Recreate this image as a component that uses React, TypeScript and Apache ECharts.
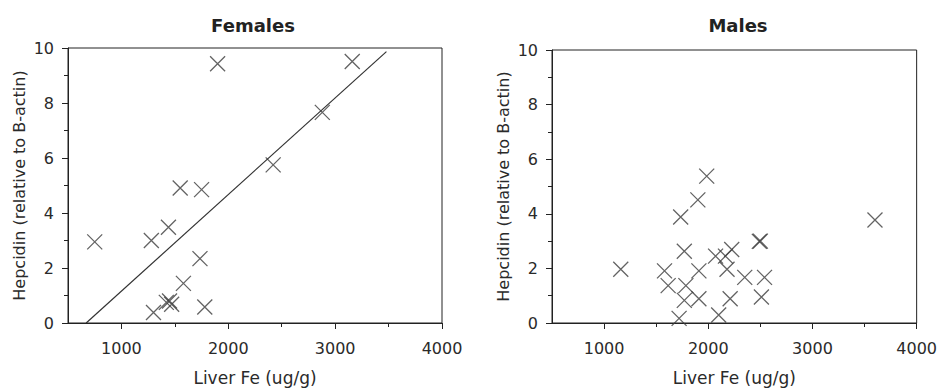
import React, { useEffect, useRef } from "react";
import * as echarts from "echarts";

// Females
const femaleFe = [1900, 3160, 2880, 2420, 1550, 1750, 750, 1280, 1440, 1735, 1580, 1420, 1450, 1470, 1300, 1780];
const femaleHep = [9.43, 9.51, 7.66, 5.75, 4.91, 4.85, 2.95, 3.0, 3.48, 2.34, 1.44, 0.75, 0.8, 0.68, 0.38, 0.58];
// fitted line end points
const femaleFitFe = [670, 3480];
const femaleFitHep = [0, 9.87];

// Males
const maleFe = [1985, 1900, 1735, 3600, 2490, 2500, 1770, 2225, 2070, 2165, 1580, 1910, 2180, 2350, 2540, 1615, 1785, 1770, 1910, 2210, 2510, 1720, 2100, 1160];
const maleHep = [5.38, 4.51, 3.88, 3.77, 2.99, 3.0, 2.63, 2.69, 2.45, 2.45, 1.91, 1.91, 1.97, 1.67, 1.67, 1.37, 1.37, 0.83, 0.89, 0.89, 0.95, 0.17, 0.29, 1.97];

const titles = ["Females", "Males"];
const xMajorTicks = [1000, 2000, 3000, 4000];
const xMinorTicks = [1500, 2500, 3500];
const xName = "Liver Fe (ug/g)";
const yName = "Hepcidin (relative to B-actin)";

const FONT = "DejaVu Sans";
const TXT = "#2a2a2a";
const LINE = "#222";
const CROSS = "path://M0,0L10,10M10,0L0,10";

export default function App() {
  const ref = useRef<HTMLDivElement>(null);
  useEffect(() => {
    const chart = echarts.init(ref.current!, null, { renderer: "svg" });
    const grids = [
      { left: 68, top: 48, width: 374, height: 279 },
      { left: 552, top: 50, width: 371, height: 278 },
    ];
    const xAxes: any[] = [];
    const yAxes: any[] = [];
    grids.forEach((_, i) => {
      xAxes.push({
        type: "value",
        gridIndex: i,
        min: 500,
        max: 4000,
        name: xName,
        nameLocation: "middle",
        nameGap: 46,
        nameTextStyle: { fontFamily: FONT, fontSize: 17, color: TXT },
        axisLine: { show: true, onZero: false, lineStyle: { color: LINE, width: 1 } },
        axisTick: { show: true, length: 6, customValues: xMajorTicks, lineStyle: { color: LINE } },
        axisLabel: {
          show: true,
          customValues: xMajorTicks,
          margin: 17,
          fontFamily: FONT,
          fontSize: 16,
          color: TXT,
          formatter: (v: number) => String(v),
        },
        splitLine: { show: false },
      });
      xAxes.push({
        type: "value",
        gridIndex: i,
        min: 500,
        max: 4000,
        position: "bottom",
        axisLine: { show: false },
        axisTick: { show: true, length: 4, customValues: xMinorTicks, lineStyle: { color: LINE } },
        axisLabel: { show: false },
        splitLine: { show: false },
      });
      yAxes.push({
        type: "value",
        gridIndex: i,
        min: 0,
        max: 10,
        interval: 2,
        name: yName,
        nameLocation: "middle",
        nameGap: 41,
        nameTextStyle: { fontFamily: FONT, fontSize: 16, color: TXT },
        axisLine: { show: true, lineStyle: { color: LINE, width: 1 } },
        axisTick: { show: true, length: 6, lineStyle: { color: LINE } },
        minorTick: { show: true, splitNumber: 2, length: 4, lineStyle: { color: LINE } },
        axisLabel: { margin: 14, fontFamily: FONT, fontSize: 16, color: TXT },
        splitLine: { show: false },
        minorSplitLine: { show: false },
      });
    });

    const markerStyle = { color: "none", borderColor: "#3c3c3c", borderWidth: 1.3 };
    const option: any = {
      animation: false,
      backgroundColor: "#fff",
      title: [
        { text: titles[0], left: 248, top: 11, textAlign: "center", textStyle: { fontFamily: FONT, fontSize: 18, fontWeight: "bold", color: "#222" } },
        { text: titles[1], left: 733, top: 11, textAlign: "center", textStyle: { fontFamily: FONT, fontSize: 18, fontWeight: "bold", color: "#222" } },
      ],
      grid: grids.map((g) => ({ ...g, show: true, borderColor: LINE, borderWidth: 1, backgroundColor: "transparent" })),
      xAxis: xAxes,
      yAxis: yAxes,
      series: [
        {
          type: "line",
          xAxisIndex: 0,
          yAxisIndex: 0,
          data: femaleFitFe.map((x, i) => [x, femaleFitHep[i]]),
          showSymbol: false,
          symbol: "none",
          lineStyle: { color: "#333", width: 1.2 },
        },
        {
          type: "scatter",
          xAxisIndex: 0,
          yAxisIndex: 0,
          symbol: CROSS,
          symbolSize: 15,
          itemStyle: markerStyle,
          data: femaleFe.map((x, i) => [x, femaleHep[i]]),
        },
        {
          type: "scatter",
          xAxisIndex: 2,
          yAxisIndex: 1,
          symbol: CROSS,
          symbolSize: 15,
          itemStyle: markerStyle,
          data: maleFe.map((x, i) => [x, maleHep[i]]),
        },
      ],
    };
    chart.setOption(option);
    return () => chart.dispose();
  }, []);
  return <div ref={ref} style={{ position: "absolute", left: 0, top: 0, width: 940, height: 391 }} />;
}
